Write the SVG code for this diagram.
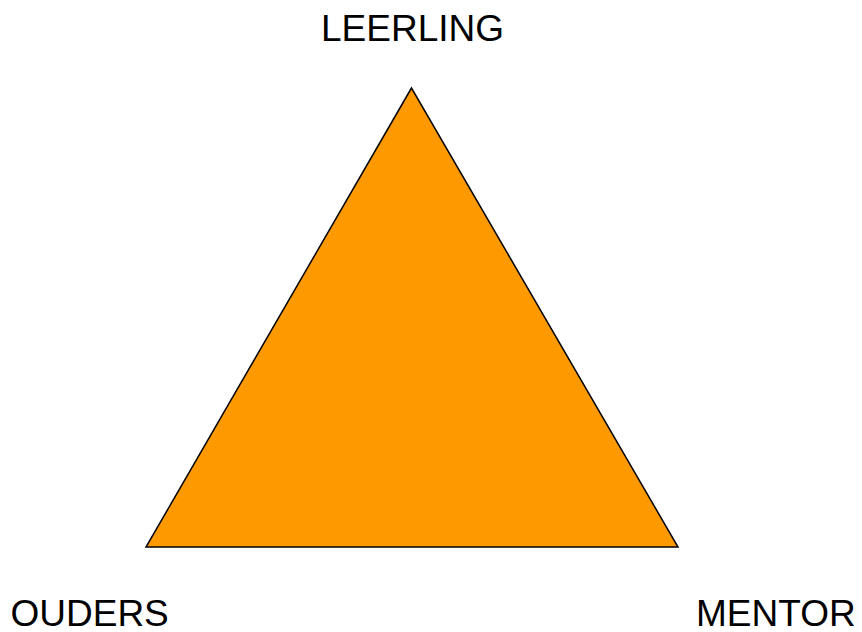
<svg xmlns="http://www.w3.org/2000/svg" width="862" height="632" viewBox="0 0 862 632">
<style>
.lbl{font-family:"Liberation Sans",Arial,sans-serif;font-size:37px;fill:#000}
.tri{fill:#FF9900;stroke:#000;stroke-width:1.5;stroke-linejoin:miter}
</style>
<rect width="862" height="632" fill="#fff"/>
<g id="triangle">
<polygon class="tri" points="411.5,88 146,547 678,547"/>
</g>
<g id="connectors"></g>
<g id="leerling"><text class="lbl" x="412.5" y="40.5" text-anchor="middle">LEERLING</text></g>
<g id="ouders"><text class="lbl" x="10.5" y="626">OUDERS</text></g>
<g id="mentor"><text class="lbl" x="696" y="626">MENTOR</text></g>
</svg>
